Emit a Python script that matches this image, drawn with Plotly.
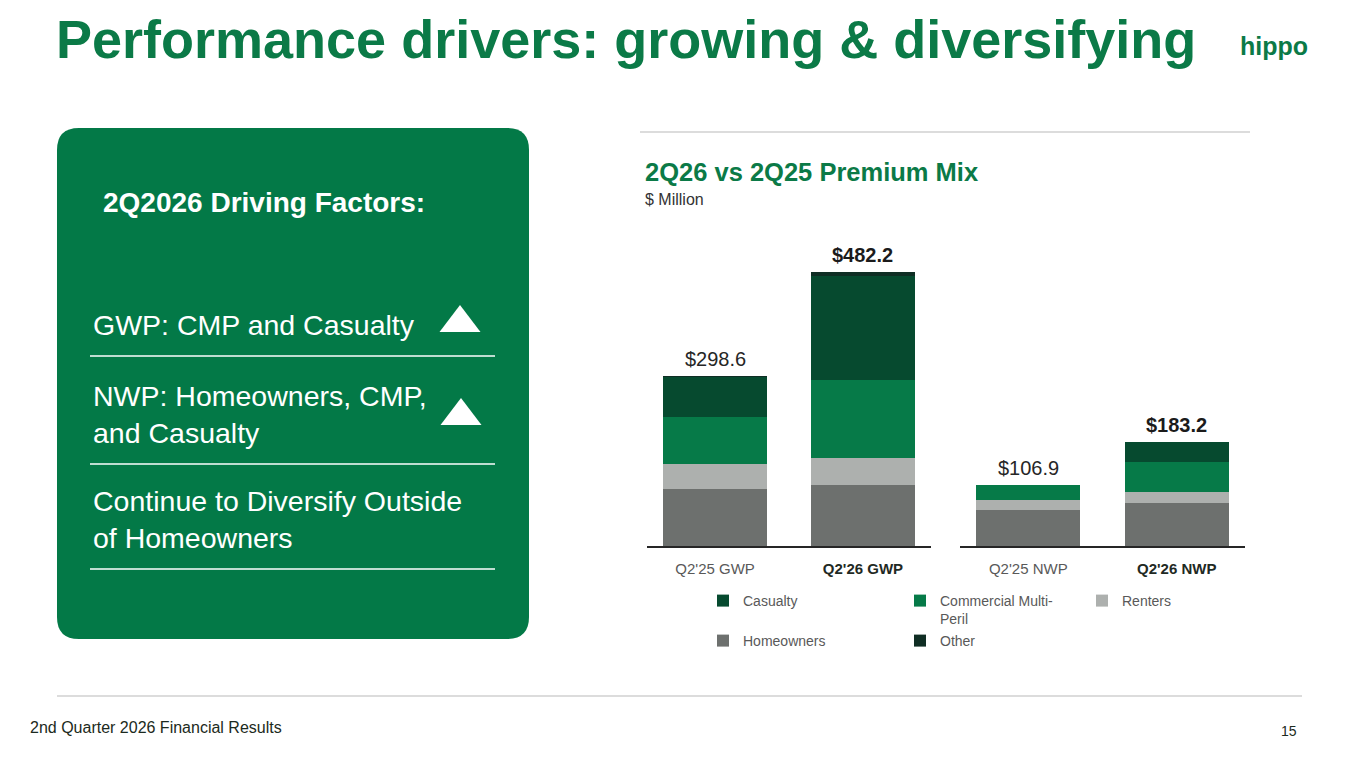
import plotly.graph_objects as go

W, H = 1365, 768
PAD = 8  # the page body keeps its default 8px margin
FW, FH = W - 2 * PAD, H - 2 * PAD

# premium mix, $ million
gwp_periods = ["Q2'25 GWP", "Q2'26 GWP"]
nwp_periods = ["Q2'25 NWP", "Q2'26 NWP"]
lines = ["Homeowners", "Renters", "Commercial Multi-Peril", "Casualty", "Other"]

homeowners_gwp = [99.5, 106.6]
renters_gwp = [45.1, 48.7]
cmp_gwp = [82.4, 137.7]
casualty_gwp = [71.2, 181.6]
other_gwp = [0.4, 7.6]

homeowners_nwp = [63.2, 75.7]
renters_nwp = [17.6, 19.7]
cmp_nwp = [26.1, 52.2]
casualty_nwp = [0.0, 35.6]
other_nwp = [0.0, 0.0]

gwp_totals = [298.6, 482.2]
nwp_totals = [106.9, 183.2]

colors = {
    "Homeowners": "#6d706e",
    "Renters": "#adb0ae",
    "Commercial Multi-Peril": "#067a48",
    "Casualty": "#064a2f",
    "Other": "#0f2e24",
}
legend_names = {"Commercial Multi-Peril": "Commercial Multi-<br>Peril"}

GREEN = "#0b7a47"
FONT = "Liberation Sans, Arial, sans-serif"


def px(x):
    return (x - PAD) / FW


def py(y):
    return 1 - (y - PAD) / FH


gwp_vals = {"Homeowners": homeowners_gwp, "Renters": renters_gwp,
            "Commercial Multi-Peril": cmp_gwp, "Casualty": casualty_gwp, "Other": other_gwp}
nwp_vals = {"Homeowners": homeowners_nwp, "Renters": renters_nwp,
            "Commercial Multi-Peril": cmp_nwp, "Casualty": casualty_nwp, "Other": other_nwp}

# legend slot for each series: (legend id, left px, top px)
legend_pos = {
    "Casualty": ("legend", 703, 585),
    "Commercial Multi-Peril": ("legend2", 900, 585),
    "Renters": ("legend3", 1082, 585),
    "Homeowners": ("legend4", 703, 625),
    "Other": ("legend5", 900, 625),
}

fig = go.Figure()
for name in lines:
    leg = legend_pos[name][0]
    fig.add_trace(go.Bar(x=gwp_periods, y=gwp_vals[name], name=legend_names.get(name, name),
                         marker=dict(color=colors[name], line=dict(width=0)),
                         xaxis="x", yaxis="y", legendgroup=name, legend=leg))
    fig.add_trace(go.Bar(x=nwp_periods, y=nwp_vals[name], name=name, showlegend=False,
                         marker=dict(color=colors[name], line=dict(width=0)),
                         xaxis="x2", yaxis="y", legendgroup=name, legend=leg))


def tick_text(labels):
    return ["<span style='color:#595959'>%s</span>" % labels[0],
            "<b><span style='color:#1f2a24'>%s</span></b>" % labels[1]]


axis_common = dict(type="category", range=[-0.46, 1.46], showline=True, linecolor="#262626",
                   linewidth=1.5, showgrid=False, zeroline=False, ticks="outside", ticklen=8,
                   tickcolor="rgba(0,0,0,0)", tickfont=dict(size=15, family=FONT))

layout_legends = {}
for name, (leg, lx, ly) in legend_pos.items():
    layout_legends[leg] = dict(x=px(lx), y=py(ly), xanchor="left", yanchor="top",
                               bgcolor="rgba(0,0,0,0)", valign="top",
                               font=dict(size=14, color="#595959", family=FONT))

fig.update_layout(
    width=FW, height=FH, margin=dict(l=0, r=0, t=0, b=0),
    paper_bgcolor="white", plot_bgcolor="rgba(0,0,0,0)",
    barmode="stack", bargap=0.297,
    font=dict(family=FONT),
    xaxis=dict(domain=[px(647), px(931)], tickvals=gwp_periods, ticktext=tick_text(gwp_periods),
               anchor="y", **axis_common),
    xaxis2=dict(domain=[px(960), px(1245)], tickvals=nwp_periods, ticktext=tick_text(nwp_periods),
                anchor="y", **axis_common),
    yaxis=dict(domain=[py(546), py(260)], range=[0, 503.4], visible=False),
    **layout_legends,
)

annotations = []
# totals above the bars
for xref, cats, totals in (("x", gwp_periods, gwp_totals), ("x2", nwp_periods, nwp_totals)):
    for i, (c, t) in enumerate(zip(cats, totals)):
        txt = "$%.1f" % t if i == 0 else "<b>$%.1f</b>" % t
        annotations.append(dict(x=c, y=t, xref=xref, yref="y", text=txt, showarrow=False,
                                yanchor="bottom", yshift=4,
                                font=dict(size=20, color="#262626" if i == 0 else "#1b1b1b")))


def note(text, x, y, size, color, bold=False, xanchor="left"):
    annotations.append(dict(x=px(x), y=py(y), xref="paper", yref="paper",
                            text="<b>%s</b>" % text if bold else text, showarrow=False,
                            xanchor=xanchor, yanchor="middle", align="left",
                            font=dict(size=size, color=color, family=FONT)))


note("Performance drivers: growing &amp; diversifying", 54, 39, 54, GREEN, bold=True)
note("hippo", 1238, 46, 25, GREEN, bold=True)
note("2Q26 vs 2Q25 Premium Mix", 643, 172, 25.5, GREEN, bold=True)
note("$ Million", 643, 200, 16, "#333333")
note("2Q2026 Driving Factors:", 101, 203, 28, "white", bold=True)
note("GWP: CMP and Casualty", 91, 325, 28.5, "white")
note("NWP: Homeowners, CMP,<br>and Casualty", 91, 414, 28.5, "white")
note("Continue to Diversify Outside<br>of Homeowners", 91, 519, 28.5, "white")
note("2nd Quarter 2026 Financial Results", 28, 727, 16, "#1c2a20")
note("15", 1299, 731, 14, "#1c2a20", xanchor="right")
fig.update_layout(annotations=annotations)

shapes = [
    # green panel
    dict(type="path", xref="paper", yref="paper", layer="below",
         path="M %f %f L %f %f Q %f %f %f %f L %f %f Q %f %f %f %f L %f %f Q %f %f %f %f L %f %f Q %f %f %f %f Z" % (
             px(79), py(128), px(507), py(128), px(529), py(128), px(529), py(150),
             px(529), py(617), px(529), py(639), px(507), py(639),
             px(79), py(639), px(57), py(639), px(57), py(617),
             px(57), py(150), px(57), py(128), px(79), py(128)),
         fillcolor="#037947", line=dict(width=0)),
    dict(type="line", xref="paper", yref="paper", x0=px(640), x1=px(1250), y0=py(132), y1=py(132),
         line=dict(color="#dcdcdc", width=2)),
    dict(type="line", xref="paper", yref="paper", x0=px(57), x1=px(1302), y0=py(696), y1=py(696),
         line=dict(color="#dcdcdc", width=2)),
]
for yy in (356, 464, 569):
    shapes.append(dict(type="line", xref="paper", yref="paper", x0=px(90), x1=px(495),
                       y0=py(yy), y1=py(yy), line=dict(color="white", width=1.5)))
for ax, ay in ((460, 305), (461, 398)):
    shapes.append(dict(type="path", xref="paper", yref="paper",
                       path="M %f %f L %f %f L %f %f Z" % (px(ax), py(ay), px(ax + 20.5), py(ay + 27),
                                                           px(ax - 20.5), py(ay + 27)),
                       fillcolor="white", line=dict(width=0)))
fig.update_layout(shapes=shapes)

fig.write_html("out.html")
